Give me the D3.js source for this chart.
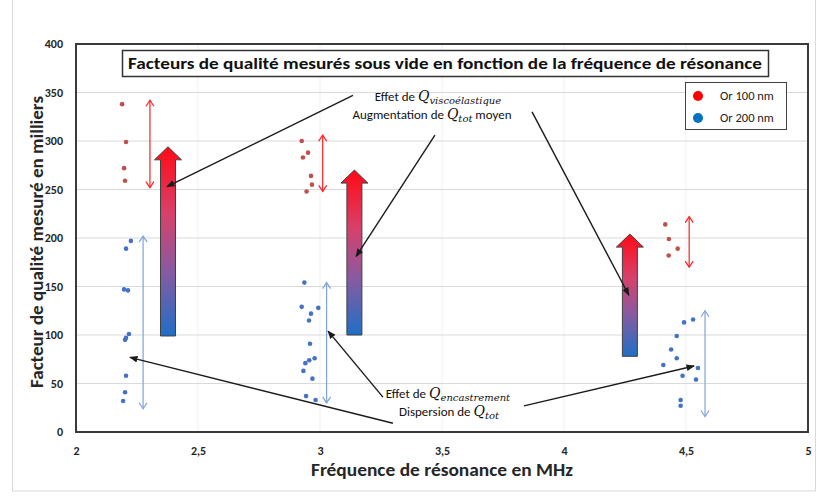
<!DOCTYPE html>
<html><head><meta charset="utf-8">
<script src="https://cdn.jsdelivr.net/npm/d3@7"></script>
<style>
body{margin:0;background:#fff;}
svg{display:block;font-family:Carlito,"Open Sans",sans-serif;}
</style></head>
<body>
<svg id="chart" width="821" height="498"></svg>
<script>
// ---- data ----
const xTicks = [2, 2.5, 3, 3.5, 4, 4.5, 5];
const xTickLabels = ["2", "2,5", "3", "3,5", "4", "4,5", "5"];
const yTicks = [0, 50, 100, 150, 200, 250, 300, 350, 400];
const yTickLabels = ["0", "50", "100", "150", "200", "250", "300", "350", "400"];
const seriesNames = ["Or 100 nm", "Or 200 nm"];

// Or 100 nm : [frequency MHz, Q (milliers)]
const or100 = [
  [2.189, 338], [2.205, 299], [2.197, 272], [2.201, 259],
  [2.925, 300], [2.951, 288], [2.930, 283], [2.963, 264], [2.967, 255], [2.945, 248],
  [4.415, 214], [4.430, 199], [4.466, 189], [4.429, 182]
];
// Or 200 nm
const or200 = [
  [2.225, 197], [2.205, 189], [2.197, 147], [2.213, 146], [2.217, 101], [2.205, 97],
  [2.201, 95], [2.205, 58], [2.201, 41], [2.193, 32],
  [2.936, 154], [2.925, 129], [2.963, 122], [2.993, 128], [2.955, 115], [2.959, 91],
  [2.978, 76], [2.956, 74], [2.940, 71], [2.932, 63], [2.969, 55], [2.943, 37], [2.982, 33],
  [4.529, 116], [4.492, 113], [4.462, 99], [4.439, 85], [4.462, 76], [4.407, 69],
  [4.549, 66], [4.486, 58], [4.541, 54], [4.478, 33], [4.478, 27]
];
// dispersion ranges (double arrows): [x, low, high]
const disp100 = [[2.303, 252, 342], [3.011, 248, 306], [4.513, 170, 222]];
const disp200 = [[2.275, 24, 202], [3.027, 30, 154], [4.578, 16, 125]];
// mean increase arrows: [x, bottom, top]
const bigArrows = [[2.377, 99, 294], [3.141, 100, 270], [4.270, 78, 204]];
// annotation pointers: [x1, y1, x2(tip), y2(tip)] in data units
const pointersTop = [
  [3.135, 347, 2.373, 253],
  [3.471, 306, 3.148, 181],
  [3.869, 330, 4.266, 141]
];
const pointersBottom = [
  [3.299, 9, 2.221, 77],
  [3.258, 36, 3.033, 104],
  [3.836, 27, 4.533, 68]
];

// ---- drawing ----
const svg = d3.select("#chart");
const x = d3.scaleLinear().domain([2, 5]).range([76, 808]);
const y = d3.scaleLinear().domain([0, 400]).range([432, 44]);

// outer chart border
svg.append("rect").attr("x", 12.5).attr("y", -1).attr("width", 803).attr("height", 492)
  .attr("fill", "none").attr("stroke", "#d9d9d9");

const defs = svg.append("defs");
const grad = defs.append("linearGradient").attr("id", "g").attr("x1", 0).attr("y1", 0).attr("x2", 0).attr("y2", 1);
grad.append("stop").attr("offset", "0%").attr("stop-color", "#ff0a14");
grad.append("stop").attr("offset", "35%").attr("stop-color", "#d8406a");
grad.append("stop").attr("offset", "65%").attr("stop-color", "#8a5aa0");
grad.append("stop").attr("offset", "100%").attr("stop-color", "#1f6fc6");
defs.append("marker").attr("id", "ah").attr("viewBox", "0 0 10 10").attr("refX", 9).attr("refY", 5)
  .attr("markerWidth", 6).attr("markerHeight", 6).attr("orient", "auto-start-reverse")
  .append("path").attr("d", "M0,1 L10,5 L0,9 Z").attr("fill", "#1a1a1a");

// gridlines
svg.append("g").selectAll("line").data(xTicks.slice(1, -1)).join("line")
  .attr("x1", d => x(d)).attr("x2", d => x(d)).attr("y1", y(400)).attr("y2", y(0))
  .attr("stroke", "#efefef").attr("stroke-width", 1);
svg.append("g").selectAll("line").data(yTicks.slice(1, -1)).join("line")
  .attr("x1", x(2)).attr("x2", x(5)).attr("y1", d => y(d)).attr("y2", d => y(d))
  .attr("stroke", "#d9d9d9").attr("stroke-width", 1);

// axes
const yAxis = svg.append("g").attr("transform", `translate(${x(2)},0)`)
  .call(d3.axisLeft(y).tickValues(yTicks).tickSize(0).tickPadding(13)
    .tickFormat((d, i) => yTickLabels[i]));
const xAxis = svg.append("g").attr("transform", `translate(0,${y(0)})`)
  .call(d3.axisBottom(x).tickValues(xTicks).tickSize(0).tickPadding(14)
    .tickFormat((d, i) => xTickLabels[i]));
[yAxis, xAxis].forEach(a => {
  a.select(".domain").remove();
  a.selectAll("text").attr("font-size", 12).attr("font-weight", "bold").attr("fill", "#262626")
    .attr("font-family", "Carlito,'Open Sans',sans-serif");
});

// plot frame
svg.append("rect").attr("x", x(2)).attr("y", y(400)).attr("width", x(5) - x(2)).attr("height", y(0) - y(400))
  .attr("fill", "none").attr("stroke", "#3a3a3a").attr("stroke-width", 2);

// axis titles
svg.append("text").attr("transform", `translate(43,${(y(0) + y(400)) / 2 + 4}) rotate(-90)`)
  .attr("text-anchor", "middle").attr("font-size", 17).attr("font-weight", "bold").attr("fill", "#262626")
  .attr("textLength", 292).attr("lengthAdjust", "spacingAndGlyphs")
  .text("Facteur de qualité mesuré en milliers");
svg.append("text").attr("x", (x(2) + x(5)) / 2).attr("y", 476)
  .attr("text-anchor", "middle").attr("font-size", 17).attr("font-weight", "bold").attr("fill", "#262626")
  .attr("textLength", 262).attr("lengthAdjust", "spacingAndGlyphs")
  .text("Fréquence de résonance en MHz");

// title box
svg.append("rect").attr("x", 122.5).attr("y", 50.5).attr("width", 646).attr("height", 26)
  .attr("fill", "#fff").attr("stroke", "#333").attr("stroke-width", 1.5);
svg.append("text").attr("x", 445).attr("y", 69).attr("text-anchor", "middle")
  .attr("font-size", 16).attr("font-weight", "bold").attr("fill", "#111")
  .attr("textLength", 634).attr("lengthAdjust", "spacingAndGlyphs")
  .text("Facteurs de qualité mesurés sous vide en fonction de la fréquence de résonance");

// big gradient arrows
svg.append("g").selectAll("path").data(bigArrows).join("path")
  .attr("d", d => {
    const cx = x(d[0]), by = y(d[1]), ty = y(d[2]);
    const sw = 7.5, hw = 13.5, hh = 13;
    return `M${cx - sw},${by} L${cx - sw},${ty + hh} L${cx - hw},${ty + hh} L${cx},${ty} L${cx + hw},${ty + hh} L${cx + sw},${ty + hh} L${cx + sw},${by} Z`;
  })
  .attr("fill", "url(#g)").attr("stroke", "#404040").attr("stroke-width", 1);

// double arrows
function dbl(data, color) {
  const g = svg.append("g").attr("stroke", color).attr("fill", "none").attr("stroke-width", 1.2);
  g.selectAll("line").data(data).join("line")
    .attr("x1", d => x(d[0])).attr("x2", d => x(d[0])).attr("y1", d => y(d[1])).attr("y2", d => y(d[2]));
  g.selectAll("path").data(data).join("path")
    .attr("d", d => {
      const cx = x(d[0]), lo = y(d[1]), hi = y(d[2]);
      return `M${cx - 4},${hi + 6} L${cx},${hi} L${cx + 4},${hi + 6} M${cx - 4},${lo - 6} L${cx},${lo} L${cx + 4},${lo - 6}`;
    });
}
dbl(disp100, "#ff2020");
dbl(disp200, "#7fa3d9");

// points
svg.append("g").selectAll("circle").data(or100).join("circle")
  .attr("cx", d => x(d[0])).attr("cy", d => y(d[1])).attr("r", 2.3).attr("fill", "#c0504d");
svg.append("g").selectAll("circle").data(or200).join("circle")
  .attr("cx", d => x(d[0])).attr("cy", d => y(d[1])).attr("r", 2.3).attr("fill", "#4472c4");

// annotation pointers
svg.append("g").selectAll("line").data(pointersTop.concat(pointersBottom)).join("line")
  .attr("x1", d => x(d[0])).attr("y1", d => y(d[1])).attr("x2", d => x(d[2])).attr("y2", d => y(d[3]))
  .attr("stroke", "#1a1a1a").attr("stroke-width", 1.4).attr("marker-end", "url(#ah)");

// annotation texts
function ann(cx, by, pre, sub, post) {
  const t = svg.append("text").attr("x", cx).attr("y", by).attr("text-anchor", "middle")
    .attr("font-size", 13).attr("fill", "#111");
  t.append("tspan").text(pre);
  t.append("tspan").attr("font-family", "'DejaVu Serif',serif").attr("font-style", "italic").attr("font-size", 14).text("Q");
  t.append("tspan").attr("font-family", "'DejaVu Serif',serif").attr("font-style", "italic").attr("font-size", 10)
    .attr("dy", 2.5).text(sub);
  if (post) t.append("tspan").attr("dy", -2.5).text(post);
}
ann(438, 101, "Effet de ", "viscoélastique", "");
ann(432, 119, "Augmentation de ", "tot", " moyen");
ann(448, 398, "Effet de ", "encastrement", "");
ann(449, 416, "Dispersion de ", "tot", "");

// legend
const lg = svg.append("g");
lg.append("rect").attr("x", 685.5).attr("y", 82.5).attr("width", 101).attr("height", 47)
  .attr("fill", "#fff").attr("stroke", "#404040").attr("stroke-width", 1);
const legColors = ["#ff0000", "#0070c0"];
seriesNames.forEach((s, i) => {
  lg.append("circle").attr("cx", 698).attr("cy", 96 + i * 22).attr("r", 5).attr("fill", legColors[i]);
  lg.append("text").attr("x", 720).attr("y", 100 + i * 22).attr("font-size", 12.5).attr("fill", "#222").text(s);
});
</script>
</body></html>
